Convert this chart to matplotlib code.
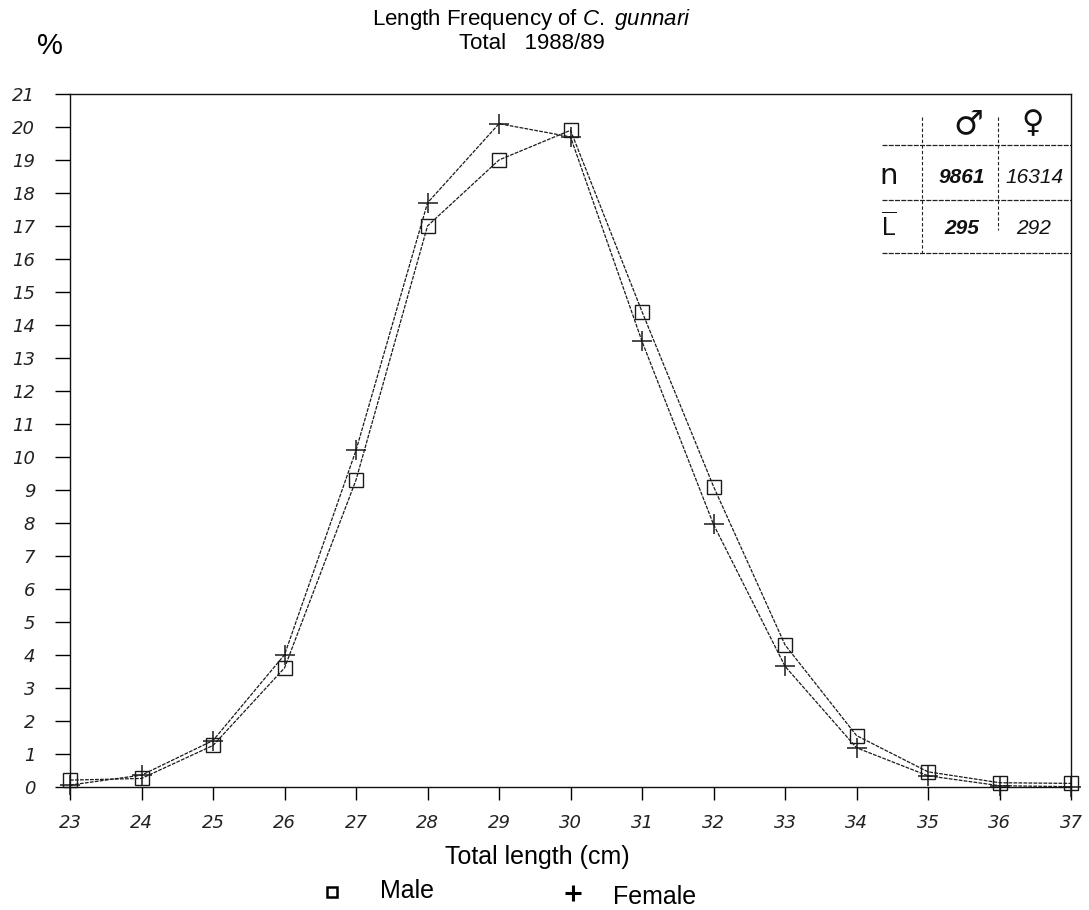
import numpy as np
import matplotlib
matplotlib.use("Agg")
import matplotlib.pyplot as plt
from matplotlib.lines import Line2D

plt.rcParams['font.family'] = ['Liberation Sans', 'DejaVu Sans']
plt.rcParams['mathtext.fontset'] = 'custom'
plt.rcParams['mathtext.rm'] = 'Liberation Sans'
plt.rcParams['mathtext.it'] = 'Liberation Sans:italic'

# length classes (cm) and percentage frequencies
length = [23, 24, 25, 26, 27, 28, 29, 30, 31, 32, 33, 34, 35, 36, 37]
male = [0.2, 0.25, 1.25, 3.6, 9.3, 17.0, 19.0, 19.9, 14.4, 9.1, 4.3, 1.55, 0.45, 0.12, 0.1]
female = [0.05, 0.35, 1.4, 4.0, 10.2, 17.7, 20.1, 19.7, 13.5, 7.95, 3.65, 1.18, 0.33, 0.03, 0.0]

# summary table (handwritten in the original)
tab_cols = ['\u2642', '\u2640']
tab_rows = ['n', r'$\overline{\mathrm{L}}$']
tab_vals = [['9861', '16314'], ['295', '292']]

yticks = list(range(0, 22))
xticks = list(range(23, 38))

fig = plt.figure(figsize=(10.89, 9.10), dpi=100)
ax = fig.add_axes([0.0643, 0.1355, 0.9192, 0.7612])

ls = (0, (3, 1))
ax.plot(length, male, color='#1a1a1a', lw=0.9, linestyle=ls, marker='s',
        markersize=10, markerfacecolor='none', markeredgecolor='#1a1a1a',
        markeredgewidth=1.0, clip_on=False)
ax.plot(length, female, color='#1a1a1a', lw=0.9, linestyle=ls, marker='+',
        markersize=14, markeredgewidth=1.1, clip_on=False)

ax.set_xlim(23, 37)
ax.set_ylim(0, 21)
ax.set_xticks(xticks)
ax.set_yticks(yticks)
ax.tick_params(axis='y', direction='out', length=11, width=1.0, pad=14,
               labelsize=13)
ax.tick_params(axis='x', direction='out', length=9, width=1.0, pad=11,
               labelsize=13)
for lab in ax.get_xticklabels() + ax.get_yticklabels():
    lab.set_fontstyle('italic')
    lab.set_family('DejaVu Sans')
    lab.set_color('#222222')
for sp in ax.spines.values():
    sp.set_linewidth(1.0)
    sp.set_color('#111111')

# table in the upper right corner (axes coordinates)
tr = ax.transAxes
def fx(px):
    return (px - 70) / (1071 - 70)
def fy(py):
    return (786.7 - py) / (786.7 - 94)
for py in [145, 200, 253]:
    ax.plot([fx(882), fx(1071)], [fy(py), fy(py)], transform=tr,
            color='#222222', lw=0.9, linestyle=(0, (4, 1)), clip_on=False)
ax.plot([fx(922), fx(922)], [fy(117), fy(253)], transform=tr,
        color='#222222', lw=0.8, linestyle=(0, (3, 2)))
ax.plot([fx(998), fx(998)], [fy(117), fy(230)], transform=tr,
        color='#222222', lw=0.8, linestyle=(0, (3, 2)))

hand = dict(transform=tr, ha='center', va='center', color='#111111')
ax.text(fx(968), fy(124), tab_cols[0], fontsize=24, family='DejaVu Sans', **hand)
ax.text(fx(1033), fy(124), tab_cols[1], fontsize=22, family='DejaVu Sans', **hand)
ax.text(fx(889), fy(176), tab_rows[0], fontsize=21, family='DejaVu Sans', **hand)
ax.text(fx(889), fy(226), tab_rows[1], fontsize=18, **hand)
for i, row in enumerate(tab_vals):
    yy = fy([177, 228][i])
    ax.text(fx(962), yy, row[0], fontsize=15, fontweight='bold',
            fontstyle='italic', **hand)
    ax.text(fx(1034), yy, row[1], fontsize=15, fontstyle='italic', **hand)

# titles and axis labels
fig.text(0.488, 0.979, 'Length Frequency of $\\it{C.}$ $\\it{gunnari}$',
         ha='center', va='center', fontsize=16)
fig.text(0.488, 0.952, 'Total   1988/89', ha='center', va='center', fontsize=16)
fig.text(0.046, 0.950, '%', ha='center', va='center', fontsize=21)
fig.text(0.493, 0.058, 'Total length (cm)', ha='center', va='center',
         fontsize=18)

# legend drawn by hand to match the original placement
fig.add_artist(Line2D([332 / 1089], [1 - 892 / 910], transform=fig.transFigure,
                      linestyle='none', marker='s', markersize=7,
                      markerfacecolor='none', markeredgecolor='black',
                      markeredgewidth=1.8))
fig.add_artist(Line2D([573 / 1089], [1 - 893 / 910], transform=fig.transFigure,
                      linestyle='none', marker='+', markersize=11,
                      markeredgewidth=2.2, color='black'))
fig.text(380 / 1089, 1 - 891 / 910, 'Male', ha='left', va='center', fontsize=18)
fig.text(613 / 1089, 1 - 897 / 910, 'Female', ha='left', va='center', fontsize=18)

fig.savefig('out.png', dpi=100)
